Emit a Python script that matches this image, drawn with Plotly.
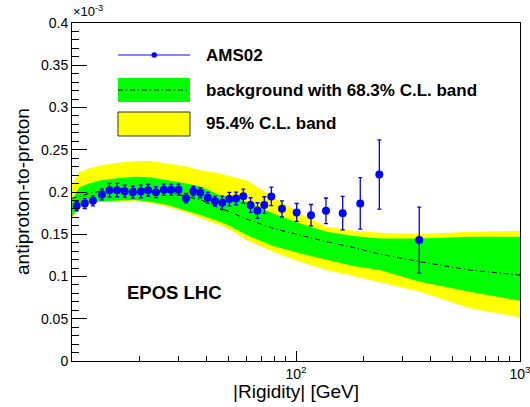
import plotly.graph_objects as go

# ---------------- data (values in units of 1e-3) ----------------
ams_R = [10.5, 11.4, 12.4, 13.6, 14.7, 15.9, 17.2, 18.7, 20.3, 21.9, 23.7, 25.7,
         27.7, 29.9, 32.3, 34.8, 37.4, 40.4, 43.5, 46.9, 50.4, 54.0, 58.2, 62.7,
         67.3, 72.2, 77.6, 86.6, 100.7, 116.7, 136.1, 161.6, 193.6, 235.5, 355]
ams_val = [0.1833, 0.1865, 0.1895, 0.1971, 0.2022, 0.2022, 0.2010, 0.1998, 0.2007,
           0.2022, 0.1998, 0.2026, 0.2026, 0.2026, 0.1927, 0.2010, 0.1990, 0.1931,
           0.1892, 0.1872, 0.1916, 0.1924, 0.1951, 0.1845, 0.1780, 0.1845, 0.1948,
           0.1801, 0.1758, 0.1726, 0.1777, 0.1750, 0.1865, 0.2208, 0.1431]
ams_err = [0.0055, 0.006, 0.006, 0.0065, 0.008, 0.008, 0.007, 0.007, 0.0075, 0.007,
           0.0065, 0.0067, 0.0067, 0.0067, 0.0055, 0.0055, 0.006, 0.0065, 0.006,
           0.008, 0.008, 0.0075, 0.0083, 0.0087, 0.0093, 0.0099, 0.011, 0.0095,
           0.0106, 0.0126, 0.0152, 0.0199, 0.0305, 0.041, 0.039]

band_R = [10, 10.8, 12, 13.5, 16.0, 19.05, 22.3, 26.8, 32, 37.8, 45.8, 49.7, 60.3,
          79.2, 104.2, 137.1, 180.3, 237, 358, 598, 1000]
y95_hi = [0.2093, 0.2235, 0.2282, 0.2317, 0.2347, 0.2365, 0.2368, 0.2338, 0.2306,
          0.2258, 0.2219, 0.2193, 0.2140, 0.1943, 0.1746, 0.1588, 0.1541, 0.1517,
          0.1502, 0.1529, 0.1541]
y68_hi = [0.1907, 0.2057, 0.2105, 0.2140, 0.2164, 0.2179, 0.2176, 0.2140, 0.2105,
          0.2061, 0.1963, 0.1943, 0.1884, 0.1746, 0.1628, 0.1529, 0.1478, 0.1451,
          0.1451, 0.1470, 0.1470]
y_bkg = [0.1927, 0.1945, 0.1987, 0.2010, 0.2034, 0.2040, 0.2034, 0.1998, 0.1951,
         0.1904, 0.1809, 0.1774, 0.1679, 0.1569, 0.1490, 0.1411, 0.1344, 0.1265,
         0.1174, 0.1076, 0.1017]
y68_lo = [0.1706, 0.1845, 0.1880, 0.1892, 0.1900, 0.1904, 0.1886, 0.1845, 0.1785,
          0.1726, 0.1647, 0.1608, 0.1490, 0.1360, 0.1274, 0.1194, 0.1123, 0.1076,
          0.0938, 0.0819, 0.0713]
y95_lo = [0.1687, 0.1825, 0.1868, 0.1884, 0.1888, 0.1892, 0.1874, 0.1825, 0.1762,
          0.1687, 0.1608, 0.1569, 0.1431, 0.1292, 0.1174, 0.1076, 0.1005, 0.0934,
          0.0819, 0.0623, 0.0517]

x_major = [100, 1000]
x_major_text = ["10<sup>2</sup>", "10<sup>3</sup>"]
x_minor = [20, 30, 40, 50, 60, 70, 80, 90, 200, 300, 400, 500, 600, 700, 800, 900]

legend_labels = ["AMS02", "background with 68.3% C.L. band", "95.4% C.L. band"]

# ---------------- figure ----------------
W, H = 530, 407
ML, MR, MT, MB = 72, 10, 23, 46
PW, PH = W - ML - MR, H - MT - MB


def px(x):
    return (x - ML) / PW


def py(y):
    return (H - MB - y) / PH


fig = go.Figure()

fig.add_trace(go.Scatter(
    x=band_R + band_R[::-1], y=y95_hi + y95_lo[::-1],
    fill="toself", fillcolor="#ffff00", line=dict(width=0),
    mode="lines", hoverinfo="skip", showlegend=False))
fig.add_trace(go.Scatter(
    x=band_R + band_R[::-1], y=y68_hi + y68_lo[::-1],
    fill="toself", fillcolor="#00ff00", line=dict(width=0),
    mode="lines", hoverinfo="skip", showlegend=False))
fig.add_trace(go.Scatter(
    x=band_R, y=y_bkg, mode="lines",
    line=dict(color="black", width=1, dash="5px,3px,1px,3px"),
    showlegend=False))
fig.add_trace(go.Scatter(
    x=ams_R, y=ams_val, mode="markers",
    marker=dict(color="#0000ff", size=8),
    error_y=dict(type="data", array=ams_err, color="#0000ff", thickness=1.3, width=2),
    showlegend=False))

fig.update_layout(
    width=W, height=H,
    margin=dict(l=ML, r=MR, t=MT, b=MB, autoexpand=False),
    paper_bgcolor="white", plot_bgcolor="white",
    font=dict(family="Liberation Sans, Arial, sans-serif", color="black", size=14),
    showlegend=False,
)

fig.update_xaxes(
    type="log", range=[1, 3], automargin=False,
    tickmode="array", tickvals=x_major, ticktext=x_major_text,
    ticks="inside", ticklen=10, tickwidth=1, tickcolor="black",
    ticklabeloverflow="allow",
    showline=True, linecolor="black", linewidth=1, mirror=True,
    showgrid=False, zeroline=False,
    tickfont=dict(size=14),
    minor=dict(tickmode="array", tickvals=x_minor, ticks="inside", ticklen=5,
               tickcolor="black", tickwidth=1, showgrid=False),
)
fig.update_yaxes(
    range=[0, 0.4], dtick=0.05, tick0=0, automargin=False,
    ticks="inside", ticklen=15, tickwidth=1, tickcolor="black",
    showline=True, linecolor="black", linewidth=1, mirror=True,
    showgrid=False, zeroline=False,
    tickfont=dict(size=14),
    minor=dict(dtick=0.01, ticks="inside", ticklen=7, tickcolor="black",
               tickwidth=1, showgrid=False),
)

ann = []
# axis titles
ann.append(dict(text="|Rigidity| [GeV]", xref="paper", yref="paper",
                x=px(296), y=py(392), xanchor="center", yanchor="middle",
                showarrow=False, font=dict(size=19)))
ann.append(dict(text="antiproton-to-proton", xref="paper", yref="paper",
                x=px(22), y=py(192), xanchor="center", yanchor="middle",
                textangle=-90, showarrow=False, font=dict(size=19)))
ann.append(dict(text="\u00d710<sup>-3</sup>", xref="paper", yref="paper",
                x=px(71), y=py(21), xanchor="left", yanchor="bottom",
                showarrow=False, font=dict(size=13)))
ann.append(dict(text="<b>EPOS LHC</b>", xref="paper", yref="paper",
                x=px(125), y=py(292), xanchor="left", yanchor="middle",
                showarrow=False, font=dict(size=18.5)))

# legend (drawn manually)
rows = [55, 90, 124]
for lab, ry in zip(legend_labels, rows):
    ann.append(dict(text="<b>" + lab + "</b>", xref="paper", yref="paper",
                    x=px(204), y=py(ry), xanchor="left", yanchor="middle",
                    showarrow=False, font=dict(size=17)))

shapes = []
# AMS02 legend symbol
shapes.append(dict(type="line", xref="paper", yref="paper",
                   x0=px(118), x1=px(190), y0=py(55), y1=py(55),
                   line=dict(color="#5a5aff", width=1.5)))
shapes.append(dict(type="circle", xref="paper", yref="paper",
                   x0=px(151.5), x1=px(157), y0=py(52.3), y1=py(57.7),
                   fillcolor="#0000ff", line=dict(color="#0000ff", width=0)))
# background legend symbol
shapes.append(dict(type="rect", xref="paper", yref="paper",
                   x0=px(118), x1=px(190), y0=py(78), y1=py(102),
                   fillcolor="#00ff00", line=dict(width=0)))
shapes.append(dict(type="line", xref="paper", yref="paper",
                   x0=px(118), x1=px(190), y0=py(90), y1=py(90),
                   line=dict(color="black", width=1, dash="5px,3px,1px,3px")))
# 95.4% legend symbol
shapes.append(dict(type="rect", xref="paper", yref="paper",
                   x0=px(118), x1=px(190), y0=py(112), y1=py(136),
                   fillcolor="#ffff00", line=dict(color="#333333", width=1)))

fig.update_layout(annotations=ann, shapes=shapes)

fig.write_html("out.html")
